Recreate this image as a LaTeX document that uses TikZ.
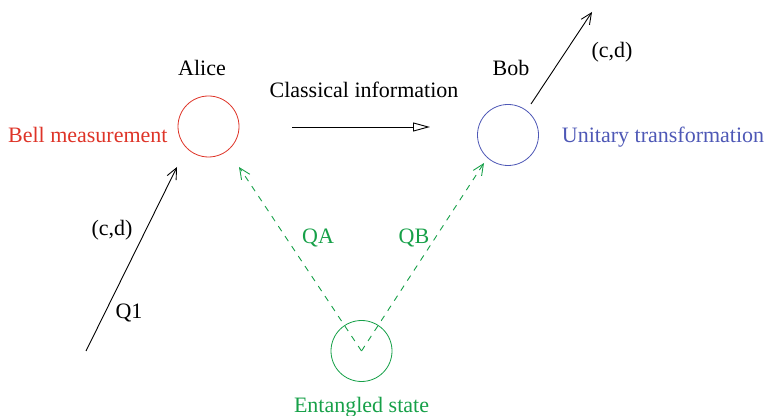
\documentclass[tikz,border=0pt]{standalone}
\usepackage{fontspec}
\setmainfont{Liberation Serif}
\usepackage{xcolor}
\usetikzlibrary{arrows.meta,positioning}

\definecolor{bellred}{RGB}{222,52,40}
\definecolor{unitblue}{RGB}{78,88,182}
\definecolor{entgreen}{RGB}{22,160,72}

\begin{document}
\begin{tikzpicture}[
    x=0.5pt,y=-0.5pt,
    font=\fontsize{11}{13}\selectfont,
    party/.style={draw,circle,minimum size=30.5pt,inner sep=0pt},
    arrow/.style={-{Straight Barb[length=5.5pt,width=5pt]},line width=0.45pt},
    qarrow/.style={arrow,dashed,draw=entgreen,dash pattern=on 3pt off 3pt}
]
\useasboundingbox (0,0) rectangle (765,416);
% parties
\node[party,draw=bellred] (alice) at (208.5,126.5) {};
\node[party,draw=unitblue] (bob) at (508,135) {};
\node[party,draw=entgreen] (source) at (361.5,351) {};
\node (alicename) at (202,68) {Alice};
\node (bobname) at (511,68) {Bob};
\node[text=bellred,left=1.5pt of alice,yshift=-4pt] (bell) {Bell measurement};
\node[text=unitblue,right=8pt of bob,yshift=-1pt] (unitary) {Unitary transformation};
\node[text=entgreen,below=4pt of source] (entangled) {Entangled state};
% free ends
\coordinate (q1in) at (86,351);
\coordinate (q1end) at (177,167);
\coordinate (qaend) at (239,167);
\coordinate (qbend) at (484,163);
\coordinate (classstart) at (292,127);
\coordinate (classend) at (430,127);
\coordinate (bobout) at (531,104);
\coordinate (cdout) at (592,12);
% connectors
\draw[arrow] (q1in) -- (q1end);
\draw[-{Triangle[open,length=8.5pt,width=4.5pt]},line width=0.45pt]
    (classstart) -- (classend);
\draw[arrow] (bobout) -- (cdout);
\draw[qarrow] (source.center) -- (qaend);
\draw[qarrow] (source.center) -- (qbend);
% labels
\node at (364,90) (classical) {Classical information};
\node at (112,230) (cdin) {(c,d)};
\node at (129,313) (qone) {Q1};
\node at (612,52) (cdbob) {(c,d)};
\node[text=entgreen] at (318,238) (qa) {QA};
\node[text=entgreen] at (414,238) (qb) {QB};
\end{tikzpicture}
\end{document}
